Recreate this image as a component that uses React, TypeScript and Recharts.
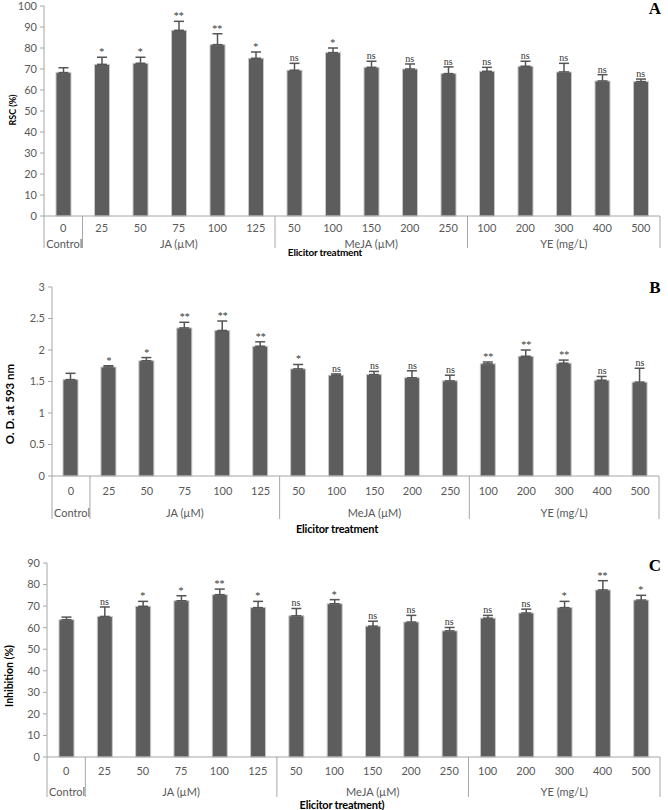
import React from "react";
import { Bar, ComposedChart, ErrorBar, LabelList, Line, XAxis, YAxis } from "recharts";

// categories (dose per bar) and the treatment groups they belong to
const doses = ["0", "25", "50", "75", "100", "125", "50", "100", "150", "200", "250", "100", "200", "300", "400", "500"];
const groupNames = ["Control", "JA (µM)", "MeJA (µM)", "YE (mg/L)"];
const groupSizes = [1, 5, 5, 5];

// A: RSC (%)
const rscValues = [68.3, 72.2, 72.7, 88.4, 81.6, 75.1, 69.4, 77.8, 70.8, 70.0, 67.8, 68.9, 71.3, 68.6, 64.3, 64.0];
const rscErrors = [2.3, 3.4, 2.9, 4.3, 5.2, 3.0, 3.3, 2.2, 2.9, 2.4, 3.2, 1.9, 2.4, 4.1, 3.0, 1.2];
const rscSig = ["", "*", "*", "**", "**", "*", "ns", "*", "ns", "ns", "ns", "ns", "ns", "ns", "ns", "ns"];
const rscTicks = [0, 10, 20, 30, 40, 50, 60, 70, 80, 90, 100];

// B: O. D. at 593 nm
const odValues = [1.53, 1.73, 1.83, 2.35, 2.31, 2.06, 1.7, 1.6, 1.61, 1.56, 1.51, 1.78, 1.9, 1.79, 1.52, 1.49];
const odErrors = [0.1, 0.02, 0.05, 0.09, 0.15, 0.07, 0.07, 0.02, 0.05, 0.11, 0.09, 0.03, 0.1, 0.05, 0.06, 0.22];
const odSig = ["", "*", "*", "**", "**", "**", "*", "ns", "ns", "ns", "ns", "**", "**", "**", "ns", "ns"];
const odTicks = [0, 0.5, 1, 1.5, 2, 2.5, 3];

// C: Inhibition (%)
const inhValues = [63.7, 65.2, 69.9, 72.5, 75.3, 69.3, 65.5, 71.1, 60.7, 62.6, 58.5, 64.4, 66.8, 69.3, 77.5, 72.8];
const inhErrors = [1.2, 4.4, 2.3, 2.3, 2.6, 2.9, 3.4, 1.9, 2.3, 3.1, 1.6, 1.3, 1.8, 2.9, 4.3, 2.2];
const inhSig = ["", "ns", "*", "*", "**", "*", "ns", "*", "ns", "ns", "ns", "ns", "ns", "*", "**", "*"];
const inhTicks = [0, 10, 20, 30, 40, 50, 60, 70, 80, 90];

const groupStarts: number[] = [];
const groupMids: Record<number, string> = {};
let acc = 0;
groupSizes.forEach((n, g) => {
  groupStarts.push(acc);
  groupMids[acc + (n - 1) / 2] = groupNames[g];
  acc += n;
});

const FONT = "Lato, 'Open Sans', sans-serif";
const SERIF = "'Liberation Serif', 'Times New Roman', serif";
const AXIS = "#a6a6a6";
const TEXT = "#595959";

function GroupTick(props: any) {
  const { x, y, payload, index, cfg } = props;
  const i = typeof index === "number" ? index : payload.index;
  const half = cfg.band / 2;
  const parts: React.ReactNode[] = [];
  parts.push(
    <text key="n" x={x} y={y + cfg.numDy} textAnchor="middle" dominantBaseline="central" fontSize={11} fill={TEXT} fontFamily={FONT}>
      {doses[i]}
    </text>
  );
  if (groupStarts.includes(i)) {
    parts.push(<line key="s" x1={x - half} x2={x - half} y1={y} y2={y + cfg.sepLen} stroke={AXIS} />);
  }
  if (i === doses.length - 1) {
    parts.push(<line key="e" x1={x + half} x2={x + half} y1={y} y2={y + cfg.sepLen} stroke={AXIS} />);
  }
  if (groupMids[i]) {
    parts.push(
      <text key="g" x={x + (i === 0 ? 1 : 0)} y={y + cfg.grpDy} textAnchor="middle" dominantBaseline="central" fontSize={11} fill={TEXT} fontFamily={FONT}>
        {groupMids[i]}
      </text>
    );
  }
  return <g>{parts}</g>;
}

function Panel({ cfg }: { cfg: any }) {
  const data = doses.map((d, i) => ({
    id: i + "-" + d,
    value: cfg.values[i],
    err: [0, cfg.errors[i]],
    top: cfg.values[i] + cfg.errors[i],
    sig: cfg.sig[i],
  }));
  const band = (668 - cfg.yw - cfg.mr) / doses.length;
  const c = { ...cfg, band };
  return (
    <div style={{ position: "absolute", left: 0, top: cfg.top, width: 668, height: cfg.height }}>
      <ComposedChart width={668} height={cfg.height} data={data} margin={{ top: cfg.mt, right: cfg.mr, left: 0, bottom: 0 }}>
        <XAxis
          dataKey="id"
          interval={0}
          tickLine={false}
          tickSize={0}
          tickMargin={0}
          height={cfg.xh}
          axisLine={{ stroke: AXIS }}
          tick={(p: any) => <GroupTick {...p} cfg={c} />}
        />
        <YAxis
          domain={[0, cfg.ticks[cfg.ticks.length - 1]]}
          ticks={cfg.ticks}
          width={cfg.yw}
          tickSize={4}
          tickMargin={3}
          axisLine={{ stroke: AXIS }}
          tickLine={{ stroke: AXIS }}
          tick={{ fontSize: 11, fill: TEXT, fontFamily: FONT }}
        />
        <Bar dataKey="value" fill="#5d5d5d" stroke="#c8c8c8" strokeWidth={1} barSize={15} isAnimationActive={false}>
          <ErrorBar dataKey="err" direction="y" width={5} stroke="#555555" strokeWidth={1.5} isAnimationActive={false} />
        </Bar>
        <Line dataKey="top" stroke="none" dot={false} activeDot={false} legendType="none" isAnimationActive={false}>
          <LabelList dataKey="sig" position="top" offset={2} fontSize={10} fill="#333333" fontFamily={SERIF} />
        </Line>
      </ComposedChart>
      <div
        style={{
          position: "absolute",
          left: cfg.ylab[1],
          top: cfg.ylab[2],
          transform: "translate(-50%, -50%) rotate(-90deg)",
          whiteSpace: "nowrap",
          fontFamily: FONT,
          fontWeight: 700,
          fontSize: cfg.ylab[3],
          color: "#000",
        }}
      >
        {cfg.ylab[0]}
      </div>
      <div
        style={{
          position: "absolute",
          left: cfg.xlab[1],
          top: cfg.xlab[2],
          transform: "translate(-50%, -50%)",
          whiteSpace: "nowrap",
          fontFamily: FONT,
          fontWeight: 700,
          fontSize: cfg.xlab[3],
          letterSpacing: -0.2,
          color: "#000",
        }}
      >
        {cfg.xlab[0]}
      </div>
      <div
        style={{
          position: "absolute",
          left: 655,
          top: cfg.letterY,
          transform: "translate(-50%, -50%)",
          fontFamily: SERIF,
          fontWeight: 700,
          fontSize: 17,
          color: "#000",
        }}
      >
        {cfg.letter}
      </div>
    </div>
  );
}

const panels = [
  {
    top: 0, height: 260, mt: 6, mr: 8, yw: 44, xh: 44,
    numDy: 11, grpDy: 27, sepLen: 32,
    values: rscValues, errors: rscErrors, sig: rscSig, ticks: rscTicks,
    ylab: ["RSC (%)", 12, 110, 9], xlab: ["Elicitor treatment", 325, 252, 10], letter: "A", letterY: 9,
  },
  {
    top: 260, height: 270, mt: 27, mr: 9, yw: 52, xh: 54,
    numDy: 14, grpDy: 36, sepLen: 43,
    values: odValues, errors: odErrors, sig: odSig, ticks: odTicks,
    ylab: ["O. D. at 593 nm", 9, 144, 11.5], xlab: ["Elicitor treatment", 337, 268, 11], letter: "B", letterY: 28,
  },
  {
    top: 530, height: 280, mt: 33, mr: 8, yw: 47, xh: 53,
    numDy: 13, grpDy: 34, sepLen: 40,
    values: inhValues, errors: inhErrors, sig: inhSig, ticks: inhTicks,
    ylab: ["Inhibition (%)", 9, 146, 10.5], xlab: ["Elicitor treatment)", 342, 274, 11], letter: "C", letterY: 36,
  },
];

export default function App() {
  return (
    <div style={{ position: "absolute", left: 0, top: 0, width: 668, height: 810, background: "#fff" }}>
      {panels.map((p) => (
        <Panel key={p.letter} cfg={p} />
      ))}
    </div>
  );
}
